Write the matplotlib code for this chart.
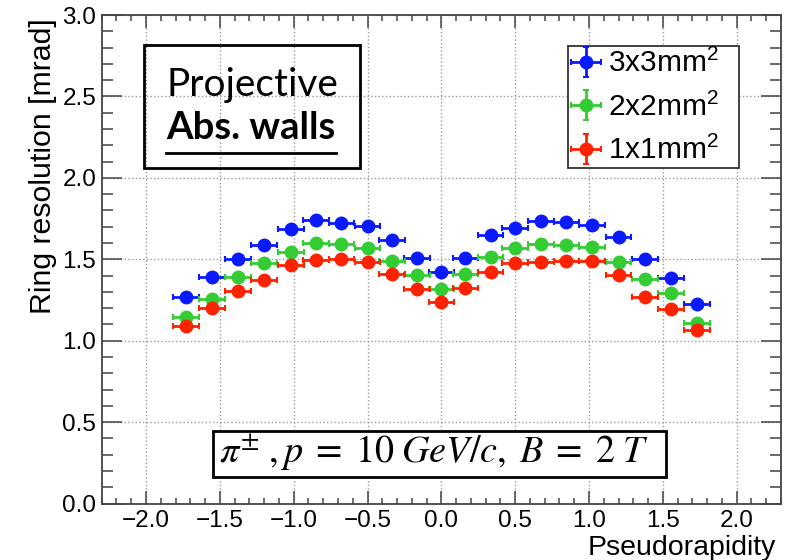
import matplotlib
matplotlib.use("Agg")
import matplotlib.pyplot as plt
from matplotlib.patches import Rectangle
from matplotlib.lines import Line2D
from matplotlib.ticker import MultipleLocator

# pseudorapidity bin centres and half widths
eta = [-1.73, -1.555, -1.378, -1.20, -1.02, -0.847, -0.677, -0.50, -0.333, -0.163, 0.0,
       0.163, 0.333, 0.50, 0.677, 0.847, 1.02, 1.20, 1.378, 1.555, 1.73]
eta_err = 0.087

# ring resolution [mrad] per pixel size
res_3x3 = [1.267, 1.389, 1.500, 1.588, 1.684, 1.741, 1.725, 1.705, 1.619, 1.506, 1.424,
           1.510, 1.649, 1.690, 1.735, 1.727, 1.711, 1.639, 1.502, 1.383, 1.225]
res_2x2 = [1.148, 1.254, 1.389, 1.475, 1.547, 1.598, 1.594, 1.568, 1.491, 1.404, 1.316,
           1.410, 1.516, 1.568, 1.594, 1.588, 1.577, 1.485, 1.377, 1.291, 1.107]
res_1x1 = [1.090, 1.199, 1.307, 1.373, 1.465, 1.496, 1.500, 1.485, 1.410, 1.318, 1.240,
           1.322, 1.424, 1.475, 1.481, 1.490, 1.490, 1.404, 1.270, 1.195, 1.066]
res_err = 0.01

labels = ["3x3mm$^{2}$", "2x2mm$^{2}$", "1x1mm$^{2}$"]
colors = ["#0a1aff", "#33cc33", "#ff2200"]

plt.rcParams["font.family"] = ["Liberation Sans", "DejaVu Sans"]
plt.rcParams["mathtext.fontset"] = "custom"
plt.rcParams["mathtext.rm"] = "Liberation Sans"
plt.rcParams["mathtext.it"] = "Liberation Sans:italic"

W, H = 797, 560
fig = plt.figure(figsize=(W / 100, H / 100), dpi=100)
ax = fig.add_axes([101.7 / W, 1 - 503.5 / H, (781 - 101.7) / W, (503.5 - 15) / H])

for res, col, lab in zip([res_3x3, res_2x2, res_1x1], colors, labels):
    ax.errorbar(eta, res, xerr=eta_err, yerr=res_err, fmt="o", color=col, ms=9,
                elinewidth=2, capsize=2.5, capthick=1.5, label=lab)

ax.set_xlim(-2.3, 2.3)
ax.set_ylim(0, 3.0)
ax.xaxis.set_major_locator(MultipleLocator(0.5))
ax.xaxis.set_minor_locator(MultipleLocator(0.1))
ax.yaxis.set_major_locator(MultipleLocator(0.5))
ax.yaxis.set_minor_locator(MultipleLocator(0.1))
ax.xaxis.set_major_formatter(lambda v, p: f"{v:.1f}".replace("-", "\u2212"))
ax.yaxis.set_major_formatter(lambda v, p: f"{v:.1f}")
ax.grid(True, which="major", linestyle=":", color="#999999", linewidth=1)

ax.tick_params(axis="both", which="both", direction="in", top=True, right=True,
               color="#444444", width=1.1, labelsize=17.5)
ax.tick_params(axis="x", which="major", length=9.5, pad=5)
ax.tick_params(axis="x", which="minor", length=4.5)
ax.tick_params(axis="y", which="major", length=14.5, pad=4)
ax.tick_params(axis="y", which="minor", length=8)
for s in ax.spines.values():
    s.set_color("#444444")
    s.set_linewidth(1.3)

fig.text(43 / W, 1 - 18 / H, "Ring resolution [mrad]", rotation=90, ha="center",
         va="top", fontsize=21.8)
fig.text(776 / W, 1 - 555 / H, "Pseudorapidity", ha="right", va="baseline",
         fontsize=20.5)

leg = ax.legend(loc="upper left", bbox_to_anchor=(568 / W, 1 - 167 / H, 171 / W, 121 / H),
                bbox_transform=fig.transFigure, mode="expand", borderaxespad=0,
                fontsize=21.5, frameon=True, fancybox=False, framealpha=1,
                edgecolor="#333333", borderpad=0.1, labelspacing=0.48,
                handlelength=1.0, handletextpad=0.25)
leg.get_frame().set_linewidth(1.3)

# "Projective / Abs. walls" box
fig.patches.append(Rectangle((144 / W, 1 - 168 / H), 216 / W, 123 / H,
                             transform=fig.transFigure, fill=False,
                             edgecolor="black", linewidth=2))
fig.text(252 / W, 1 - 85 / H, "Projective", ha="center", va="center",
         fontsize=28, family="Lato")
t2 = fig.text(251 / W, 1 - 128 / H, "Abs. walls", ha="center", va="center",
              fontsize=27.5, family="Lato", fontweight="bold")

fig.canvas.draw()
bb = t2.get_window_extent(fig.canvas.get_renderer())
fig.lines.append(Line2D([bb.x0 / W, bb.x1 / W], [1 - 153 / H, 1 - 153 / H],
                        transform=fig.transFigure, color="black", linewidth=2))

# beam conditions box
fig.patches.append(Rectangle((213 / W, 1 - 477.3 / H), 453 / W, 46.6 / H,
                             transform=fig.transFigure, facecolor="white",
                             edgecolor="black", linewidth=2, zorder=3))
fig.text(434 / W, 1 - 453 / H, r"$\pi^{\pm}\;, p\;=\;10\;GeV/c,\;B\;=\;2\;T$",
         ha="center", va="center", fontsize=27.5, math_fontfamily="stix", zorder=4)

fig.savefig("out.png", dpi=100)
